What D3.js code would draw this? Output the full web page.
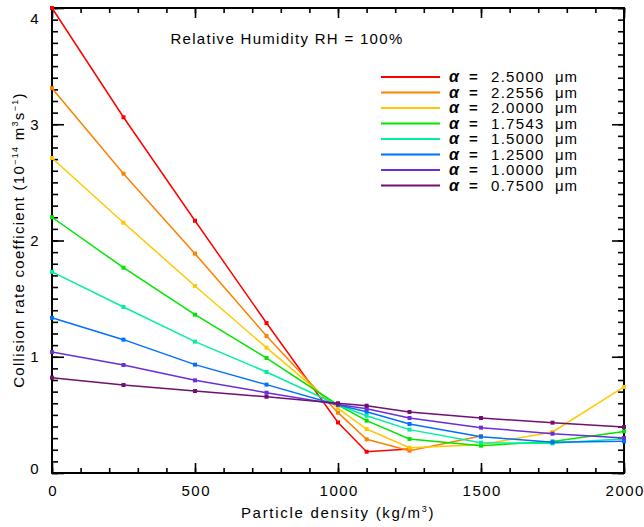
<!DOCTYPE html>
<html>
<head>
<meta charset="utf-8">
<script src="https://cdn.jsdelivr.net/npm/d3@7"></script>
<style>
  body { margin: 0; background: #fff; }
  svg text { font-family: "Liberation Sans", Arial, sans-serif; fill: #000; }
</style>
</head>
<body>
<svg id="chart" width="644" height="527"></svg>
<script>
'use strict';

// particle densities (kg/m3)
const densities = [0, 250, 500, 750, 1000, 1100, 1250, 1500, 1750, 2000];

// radii shown in legend
const radii = ['2.5000', '2.2556', '2.0000', '1.7543', '1.5000', '1.2500', '1.0000', '0.7500'];
const colors = ['#ff0000', '#ff8000', '#ffc800', '#00e600', '#00f0a0', '#0070ff', '#6a2fd8', '#701070'];

// collision rate coefficient (1e-14 m3/s), one array per radius, null = no point
const rate250 = [4.00, 3.06, 2.17, 1.29, 0.435, 0.183, 0.206, null, null, null];
const rate226 = [3.31, 2.575, 1.887, 1.178, 0.519, 0.29, 0.192, 0.318, null, null];
const rate200 = [2.71, 2.153, 1.609, 1.078, 0.556, 0.378, 0.218, 0.243, 0.353, 0.74];
const rate175 = [2.20, 1.766, 1.362, 0.989, 0.585, 0.45, 0.292, 0.235, 0.272, 0.358];
const rate150 = [1.73, 1.428, 1.130, 0.869, 0.585, 0.493, 0.373, 0.261, 0.255, 0.295];
const rate125 = [1.335, 1.147, 0.932, 0.760, 0.585, 0.527, 0.421, 0.312, 0.264, 0.273];
const rate100 = [1.04, 0.929, 0.797, 0.691, 0.59, 0.553, 0.473, 0.39, 0.338, 0.301];
const rate075 = [0.82, 0.757, 0.705, 0.656, 0.60, 0.579, 0.525, 0.473, 0.433, 0.396];

const series = [rate250, rate226, rate200, rate175, rate150, rate125, rate100, rate075];

const xMajor = [0, 500, 1000, 1500, 2000];
const yMajor = [0, 1, 2, 3, 4];

const svg = d3.select('#chart');
const plotL = 52, plotR = 624, plotT = 8, plotB = 473;

const x = d3.scaleLinear().domain([0, 2000]).range([plotL, plotR]);
const y = d3.scaleLinear().domain([0, 4]).range([plotB, plotT]);

const xMinor = d3.range(0, 2001, 100);
const yMinor = d3.range(0, 4.001, 0.1);

// ticks point inward on all four sides
const addAxis = (gen, transform, ticks, size, labels) => {
  const g = svg.append('g').attr('transform', transform)
    .call(gen.tickValues(ticks).tickSize(-size).tickPadding(labels ? 12 : 0)
      .tickFormat(labels ? d3.format('d') : ''));
  g.select('.domain').remove();
  g.selectAll('.tick line').attr('stroke', '#000').attr('stroke-width', 1.6);
  g.selectAll('.tick text').style('font-size', '15px').style('letter-spacing', '1.5px');
  return g;
};

addAxis(d3.axisBottom(x), `translate(0,${plotB})`, xMinor, 5, false);
const xAxis = addAxis(d3.axisBottom(x), `translate(0,${plotB})`, xMajor, 10, true);
xAxis.selectAll('.tick text').attr('dx', '0.75px');
addAxis(d3.axisTop(x), `translate(0,${plotT})`, xMinor, 5, false);
addAxis(d3.axisTop(x), `translate(0,${plotT})`, xMajor, 10, false);
addAxis(d3.axisLeft(y), `translate(${plotL},0)`, yMinor, 6, false);
const yAxis = addAxis(d3.axisLeft(y), `translate(${plotL},0)`, yMajor, 12, true);
// end labels sit inside the axis range
yAxis.selectAll('.tick text')
  .attr('dy', d => d === 4 ? '1.05em' : d === 0 ? '0' : '0.32em');
addAxis(d3.axisRight(y), `translate(${plotR},0)`, yMinor, 6, false);
addAxis(d3.axisRight(y), `translate(${plotR},0)`, yMajor, 12, false);

svg.append('rect')
  .attr('x', plotL).attr('y', plotT)
  .attr('width', plotR - plotL).attr('height', plotB - plotT)
  .attr('fill', 'none').attr('stroke', '#000').attr('stroke-width', 2);

// lines and markers
const line = d3.line()
  .defined(d => d.v !== null)
  .x(d => x(d.x))
  .y(d => y(d.v));

series.forEach((vals, i) => {
  const pts = vals.map((v, j) => ({ x: densities[j], v }));
  svg.append('path')
    .datum(pts)
    .attr('d', line)
    .attr('fill', 'none')
    .attr('stroke', colors[i])
    .attr('stroke-width', 1.5);
  svg.selectAll(null)
    .data(pts.filter(d => d.v !== null))
    .enter()
    .append('rect')
    .attr('x', d => x(d.x) - 2)
    .attr('y', d => y(d.v) - 2)
    .attr('width', 4)
    .attr('height', 4)
    .attr('fill', colors[i]);
});

// title
svg.append('text')
  .attr('x', 287).attr('y', 44)
  .attr('text-anchor', 'middle')
  .style('font-size', '15px')
  .style('letter-spacing', '1.3px')
  .text('Relative Humidity RH = 100%');

// legend
const legend = svg.append('g');
radii.forEach((r, i) => {
  const ly = 77 + i * 15.5;
  legend.append('line')
    .attr('x1', 381).attr('x2', 440)
    .attr('y1', ly).attr('y2', ly)
    .attr('stroke', colors[i]).attr('stroke-width', 2);
  legend.append('text').attr('x', 449).attr('y', ly + 5)
    .style('font-size', '16px').style('font-style', 'italic').style('font-weight', 'bold')
    .text('α');
  legend.append('text').attr('x', 469).attr('y', ly + 5)
    .style('font-size', '15px').style('font-weight', 'bold').text('=');
  legend.append('text').attr('x', 491).attr('y', ly + 5)
    .style('font-size', '15px').style('letter-spacing', '1.3px').text(r);
  legend.append('text').attr('x', 555).attr('y', ly + 5)
    .style('font-size', '15px').style('letter-spacing', '0.8px').text('μm');
});

// x axis title
const xt = svg.append('text')
  .attr('x', 338).attr('y', 518)
  .attr('text-anchor', 'middle')
  .style('font-size', '15px')
  .style('letter-spacing', '1.7px');
xt.append('tspan').text('Particle density (kg/m');
xt.append('tspan').attr('dy', -6).style('font-size', '9px').text('3');
xt.append('tspan').attr('dy', 6).text(')');

// y axis title
const yt = svg.append('text')
  .attr('transform', 'translate(24,240) rotate(-90)')
  .attr('text-anchor', 'middle')
  .style('font-size', '15px')
  .style('letter-spacing', '1.3px');
yt.append('tspan').text('Collision rate coefficient (10');
yt.append('tspan').attr('dy', -6).style('font-size', '9px').text('−14');
yt.append('tspan').attr('dy', 6).text('  m');
yt.append('tspan').attr('dy', -6).style('font-size', '9px').text('3');
yt.append('tspan').attr('dy', 6).text('s');
yt.append('tspan').attr('dy', -6).style('font-size', '9px').text('−1');
yt.append('tspan').attr('dy', 6).text(')');
</script>
</body>
</html>
